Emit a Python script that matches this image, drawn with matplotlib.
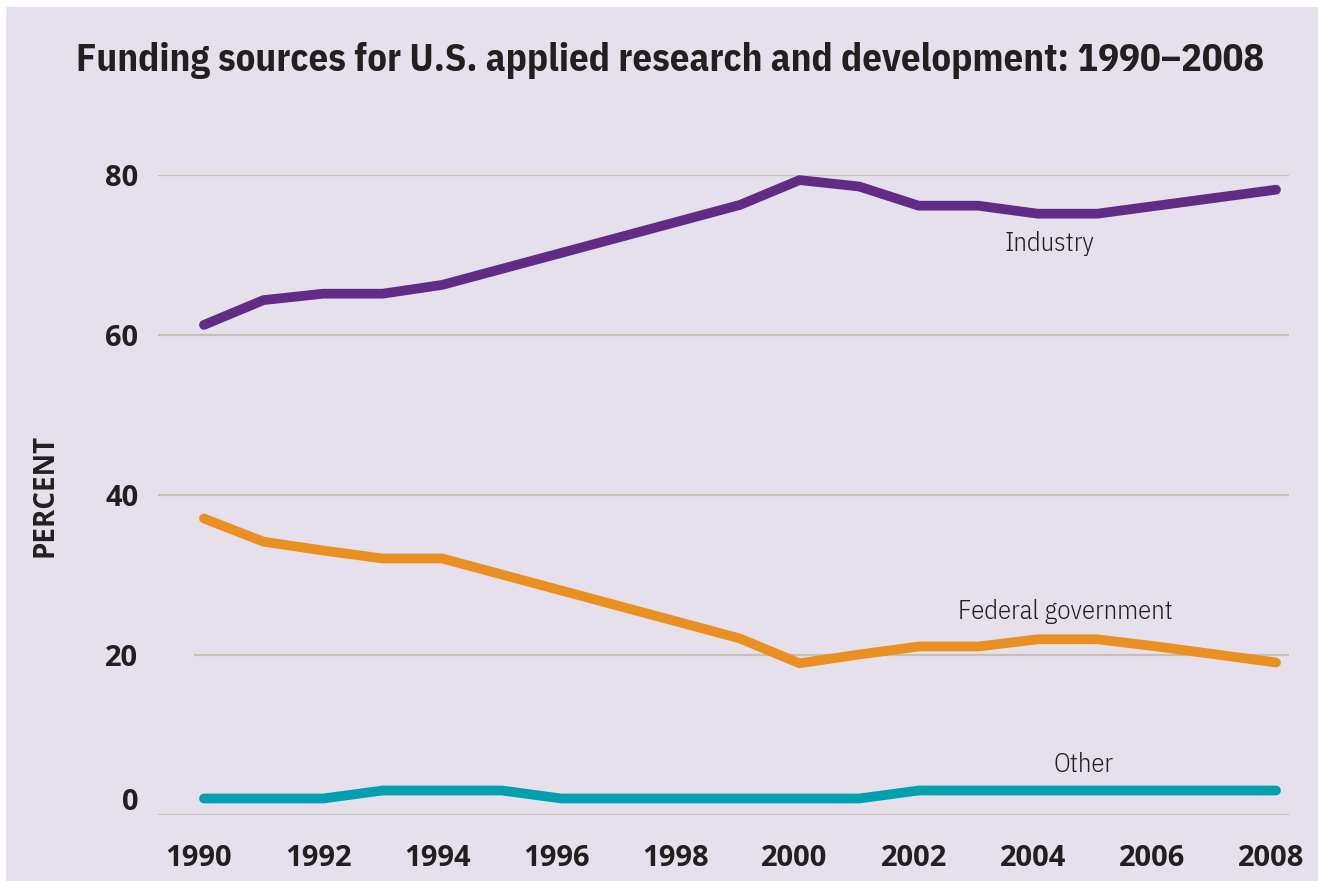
import matplotlib
matplotlib.use("Agg")
import matplotlib.pyplot as plt
import matplotlib.transforms as mtransforms
from matplotlib.patches import Rectangle

years = list(range(1990, 2009))
industry = [61.2, 64.3, 65.1, 65.1, 66.2, 68.2, 70.2, 72.2, 74.2, 76.2,
            79.3, 78.5, 76.1, 76.1, 75.1, 75.1, 76.1, 77.1, 78.1]
federal = [37.0, 34.1, 33.0, 32.0, 32.0, 30.0, 28.0, 26.0, 24.0, 22.0,
           18.9, 20.0, 21.0, 21.0, 21.9, 21.9, 21.0, 20.0, 19.0]
other = [2, 2, 2, 3, 3, 3, 2, 2, 2, 2, 2, 2, 3, 3, 3, 3, 3, 3, 3]
series_names = ["Industry", "Federal government", "Other"]
y_ticks = [0, 20, 40, 60, 80]
x_ticks = years[::2]

title = "Funding sources for U.S. applied research and development: 1990\u20132008"

BG = "#e5e0ec"
GRID = "#c7beb4"
TXT = "#231f20"
colors = ["#622c86", "#ea8f22", "#00a0b0"]

COND = ["IBM Plex Sans Condensed", "DejaVu Sans"]
BOLD = ["Open Sans", "DejaVu Sans"]

W, H = 1318, 881
fig = plt.figure(figsize=(W / 100, H / 100), dpi=100)
fig.patch.set_facecolor("white")
fig.patches.append(Rectangle((6 / W, 0), 1 - 6 / W, 1 - 7 / H,
                             transform=fig.transFigure, facecolor=BG,
                             edgecolor="none", zorder=-5))

ax = fig.add_axes([158 / W, 66.5 / H, (1289 - 158) / W, (706.5 - 66.5) / H])
ax.set_facecolor("none")
ax.set_xlim(1989.228, 2008.218)
ax.set_ylim(0, 80)
for s in ax.spines.values():
    s.set_visible(False)

# gridlines (the 20 line starts a little further right in the original)
for v in y_ticks:
    xmin = (195 - 158) / (1289 - 158) if v == 20 else 0
    ax.axhline(v, xmin=xmin, xmax=1, color=GRID, lw=1.6, zorder=1)

for vals, c in zip([industry, federal, other], colors):
    ax.plot(years, vals, color=c, lw=7.0, solid_capstyle="round",
            solid_joinstyle="miter", zorder=3, clip_on=False)

label_pos = [(2004.2, 71.4), (2004.46, 25.4), (2004.76, 6.2)]
for name, (lx, ly) in zip(series_names, label_pos):
    ax.text(lx, ly, name, ha="center", va="center", fontsize=19.2,
            family=COND, fontweight=300, color=TXT)

ax.set_xticks(x_ticks)
ax.set_xticklabels([str(x) for x in x_ticks])
ax.set_yticks(y_ticks)
ax.set_yticklabels([str(v) for v in y_ticks])
ax.tick_params(axis="both", length=0, labelsize=21, labelcolor=TXT)
ax.tick_params(axis="x", pad=21)
ax.tick_params(axis="y", pad=14)
for lab in ax.get_xticklabels() + ax.get_yticklabels():
    lab.set_fontfamily(BOLD)
    lab.set_fontweight("bold")
    lab.set_fontstretch("normal")
# x labels sit a few pixels left of their years in the original
for lab in ax.get_xticklabels():
    lab.set_transform(lab.get_transform() +
                      mtransforms.ScaledTranslation(-5 / 100, 0, fig.dpi_scale_trans))
# the 0 label sits slightly above the baseline in the original
zero_lab = ax.get_yticklabels()[0]
zero_lab.set_transform(zero_lab.get_transform() +
                       mtransforms.ScaledTranslation(0, 16 / 100, fig.dpi_scale_trans))

fig.text(45 / W, 1 - 495 / H, "PERCENT", rotation=90, ha="center", va="center",
         fontsize=20, fontweight="bold", fontstretch="normal", family=BOLD, color=TXT)

fig.text(670 / W, 1 - 71 / H, title, ha="center", va="baseline",
         fontsize=27.8, fontweight="bold", family=COND, color=TXT)

fig.savefig("out.png", dpi=100, facecolor=fig.get_facecolor())
